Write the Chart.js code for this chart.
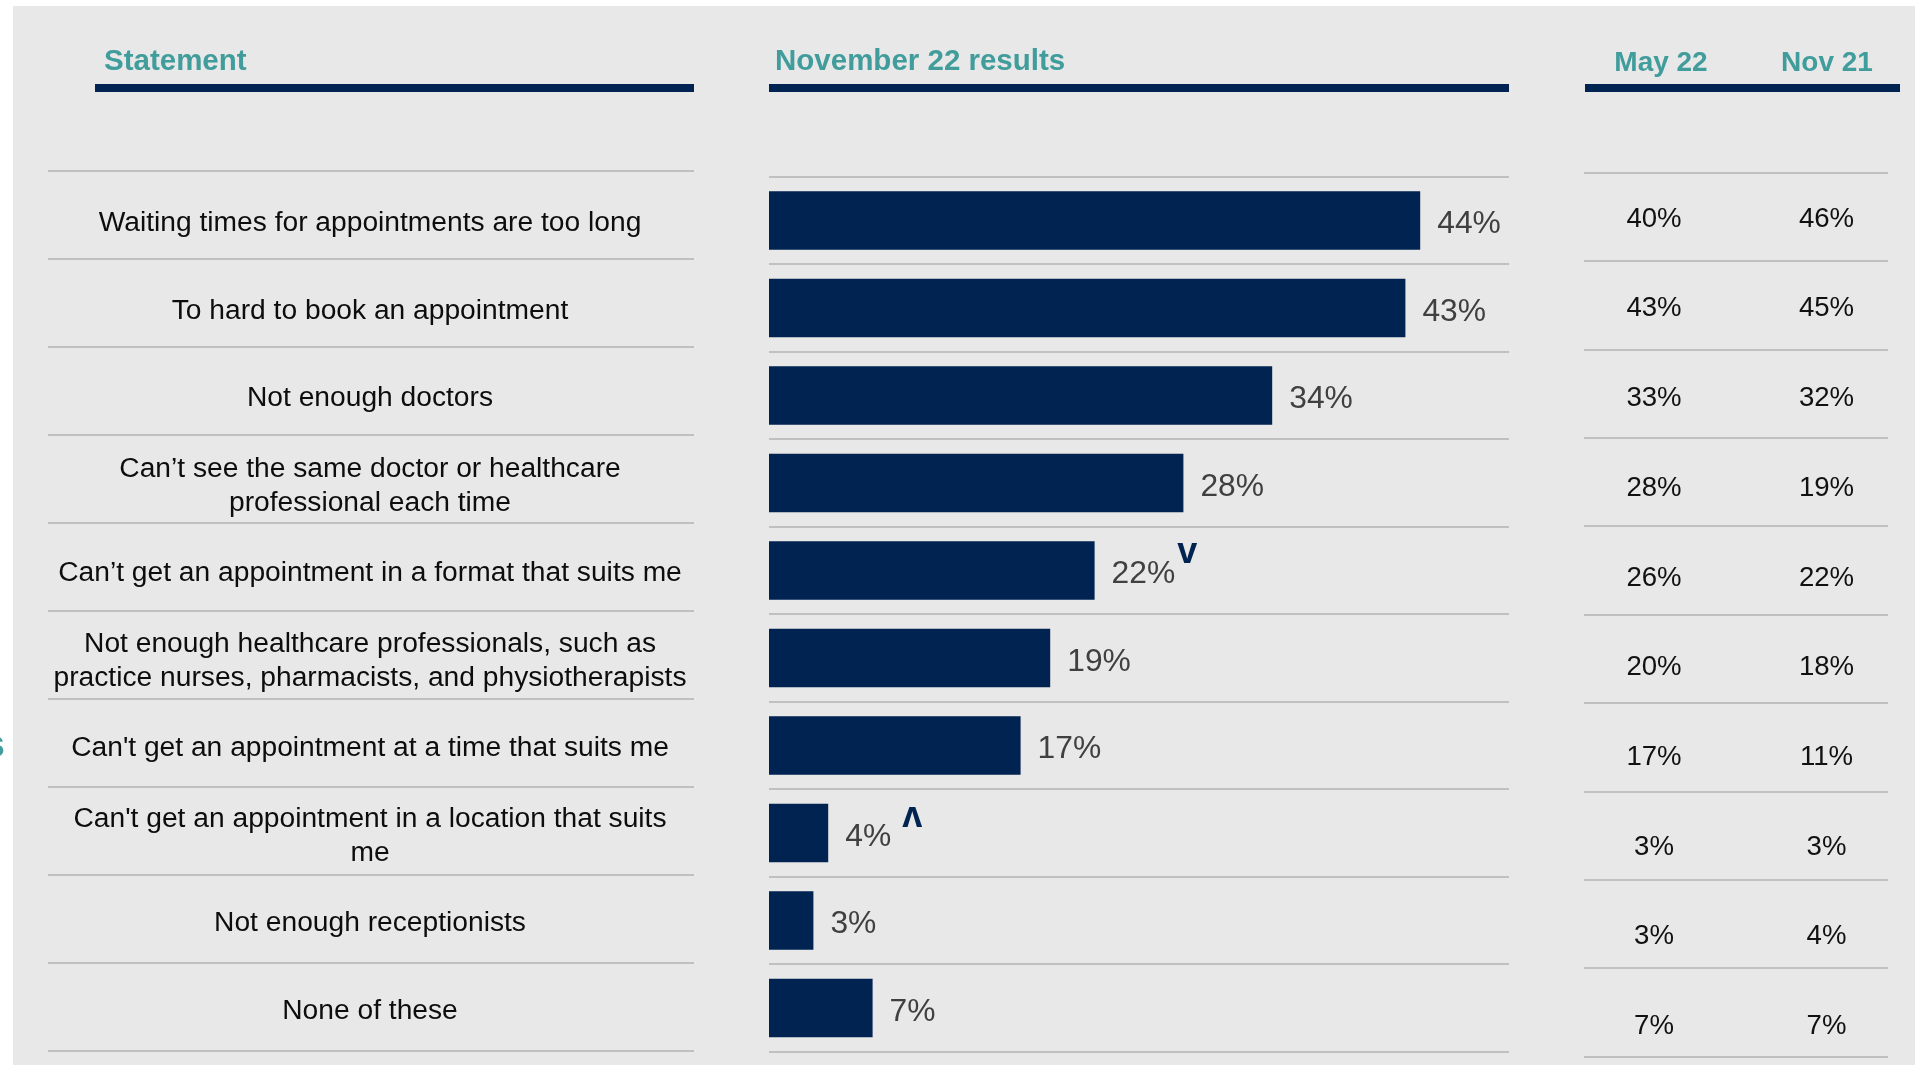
<!DOCTYPE html>
<html>
<head>
<meta charset="utf-8">
<title>GP access barriers – November 22</title>
<script src="https://cdn.jsdelivr.net/npm/chart.js@4.4.1/dist/chart.umd.min.js"></script>
<style>
  html, body { margin: 0; padding: 0; background: #ffffff; overflow: hidden; }
  canvas { display: block; }
</style>
</head>
<body>
<canvas id="chart" width="1921" height="1065"></canvas>
<script>
// Survey statements (multi-line ones are split where they wrap)
const statements = [
  'Waiting times for appointments are too long',
  'To hard to book an appointment',
  'Not enough doctors',
  ['Can\u2019t see the same doctor or healthcare', 'professional each time'],
  'Can\u2019t get an appointment in a format that suits me',
  ['Not enough healthcare professionals, such as', 'practice nurses, pharmacists, and physiotherapists'],
  "Can't get an appointment at a time that suits me",
  ["Can't get an appointment in a location that suits", 'me'],
  'Not enough receptionists',
  'None of these'
];

// Percentages by wave
const nov22 = [44, 43, 34, 28, 22, 19, 17, 4, 3, 7];
const may22 = [40, 43, 33, 28, 26, 20, 17, 3, 3, 7];
const nov21 = [46, 45, 32, 19, 22, 18, 11, 3, 4, 7];

// Significant change vs previous wave: 'up', 'down' or ''
const changeFlags = ['', '', '', '', 'down', '', '', 'up', '', ''];

const columnHeaders = ['Statement', 'November 22 results', 'May 22', 'Nov 21'];

const NAVY = '#002352';
const TEAL = '#419c9c';
const RULE = '#c0c0c0';
const PANEL = '#e8e8e8';
const FONT = '"Liberation Sans", Arial, sans-serif';

const pct = v => v + '%';

const surveyTable = {
  id: 'surveyTable',
  beforeDraw(chart) {
    const ctx = chart.ctx;
    ctx.save();
    ctx.fillStyle = '#ffffff';
    ctx.fillRect(0, 0, chart.width, chart.height);
    ctx.fillStyle = PANEL;
    ctx.fillRect(13, 6, 1902, chart.height - 6);
    ctx.restore();
  },
  afterDatasetsDraw(chart) {
    const ctx = chart.ctx;
    const bars = chart.getDatasetMeta(0).data;
    ctx.save();
    bars.forEach((bar, i) => {
      const text = pct(nov22[i]);
      const cy = bar.y + 1.5;
      ctx.font = '31.8px ' + FONT;
      ctx.fillStyle = '#404040';
      ctx.textAlign = 'left';
      ctx.textBaseline = 'alphabetic';
      const lx = bar.x + 17;
      ctx.fillText(text, lx, cy + 11.3);
      const end = lx + ctx.measureText(text).width;
      ctx.font = 'bold 36px ' + FONT;
      ctx.fillStyle = NAVY;
      if (changeFlags[i] === 'down') {
        ctx.fillText('v', end + 2, cy - 8.7);
      } else if (changeFlags[i] === 'up') {
        ctx.save();
        ctx.translate(end + 21, cy - 18.3);
        ctx.rotate(Math.PI);
        ctx.textAlign = 'center';
        ctx.fillText('v', 0, 9.3);
        ctx.restore();
      }
    });
    ctx.restore();
  },
  afterDraw(chart) {
    const ctx = chart.ctx;
    const area = chart.chartArea;
    const yScale = chart.scales.y;
    ctx.save();

    // Column headers
    ctx.fillStyle = TEAL;
    ctx.textBaseline = 'alphabetic';
    ctx.font = 'bold 29.5px ' + FONT;
    ctx.textAlign = 'left';
    ctx.fillText(columnHeaders[0], 104, 69.5);
    ctx.fillText(columnHeaders[1], 775, 69.5);
    ctx.font = 'bold 28px ' + FONT;
    ctx.textAlign = 'center';
    ctx.fillText(columnHeaders[2], 1661, 70.5);
    ctx.fillText(columnHeaders[3], 1827, 70.5);

    // Header rules
    ctx.fillStyle = NAVY;
    ctx.fillRect(95, 84, 599, 8);
    ctx.fillRect(area.left, 84, area.right - area.left, 8);
    ctx.fillRect(1585, 84, 315, 8);

    // Statement column: separators and labels
    ctx.strokeStyle = RULE;
    ctx.lineWidth = 2;
    for (let k = 0; k <= statements.length; k++) {
      const y = Math.round(170.7 + 88 * k);
      ctx.beginPath();
      ctx.moveTo(48, y);
      ctx.lineTo(694, y);
      ctx.stroke();
    }
    ctx.fillStyle = '#0d0d0d';
    ctx.font = '28.2px ' + FONT;
    ctx.textAlign = 'center';
    statements.forEach((label, i) => {
      const cy = yScale.getPixelForValue(i) + 1;
      const lines = Array.isArray(label) ? label : [label];
      const lh = 33.7;
      lines.forEach((line, j) => {
        const ly = cy + (j - (lines.length - 1) / 2) * lh;
        ctx.fillText(line, 370, ly + 10);
      });
    });

    // Earlier waves table
    for (let k = 0; k <= statements.length; k++) {
      const y = Math.round(172.7 + 88.4 * k);
      ctx.beginPath();
      ctx.moveTo(1584, y);
      ctx.lineTo(1888, y);
      ctx.stroke();
    }
    ctx.fillStyle = '#111111';
    ctx.font = '27.6px ' + FONT;
    ctx.textAlign = 'center';
    for (let i = 0; i < statements.length; i++) {
      const cy = 216.8 + 89.7 * i;
      ctx.fillText(pct(may22[i]), 1654, cy + 9.9);
      ctx.fillText(pct(nov21[i]), 1826.5, cy + 9.9);
    }

    // Clipped side heading at the left edge
    ctx.fillStyle = TEAL;
    ctx.font = 'bold 38px ' + FONT;
    ctx.textAlign = 'right';
    ctx.fillText('s', 5, 757);

    ctx.restore();
  }
};

new Chart(document.getElementById('chart'), {
  type: 'bar',
  data: {
    labels: statements,
    datasets: [{
      label: 'November 22 results',
      data: nov22,
      backgroundColor: NAVY,
      borderWidth: 0,
      barPercentage: 0.67,
      categoryPercentage: 1
    }]
  },
  options: {
    indexAxis: 'y',
    responsive: false,
    animation: false,
    devicePixelRatio: 1,
    layout: { padding: { left: 769, right: 412, top: 176.7, bottom: 13.3 } },
    plugins: { legend: { display: false }, tooltip: { enabled: false } },
    scales: {
      x: { type: 'linear', min: 0, max: 50, display: false },
      y: {
        type: 'category',
        display: true,
        ticks: { display: false },
        border: { display: false },
        grid: { display: true, color: RULE, lineWidth: 2, drawTicks: false, offset: true }
      }
    }
  },
  plugins: [surveyTable]
});
</script>
</body>
</html>
